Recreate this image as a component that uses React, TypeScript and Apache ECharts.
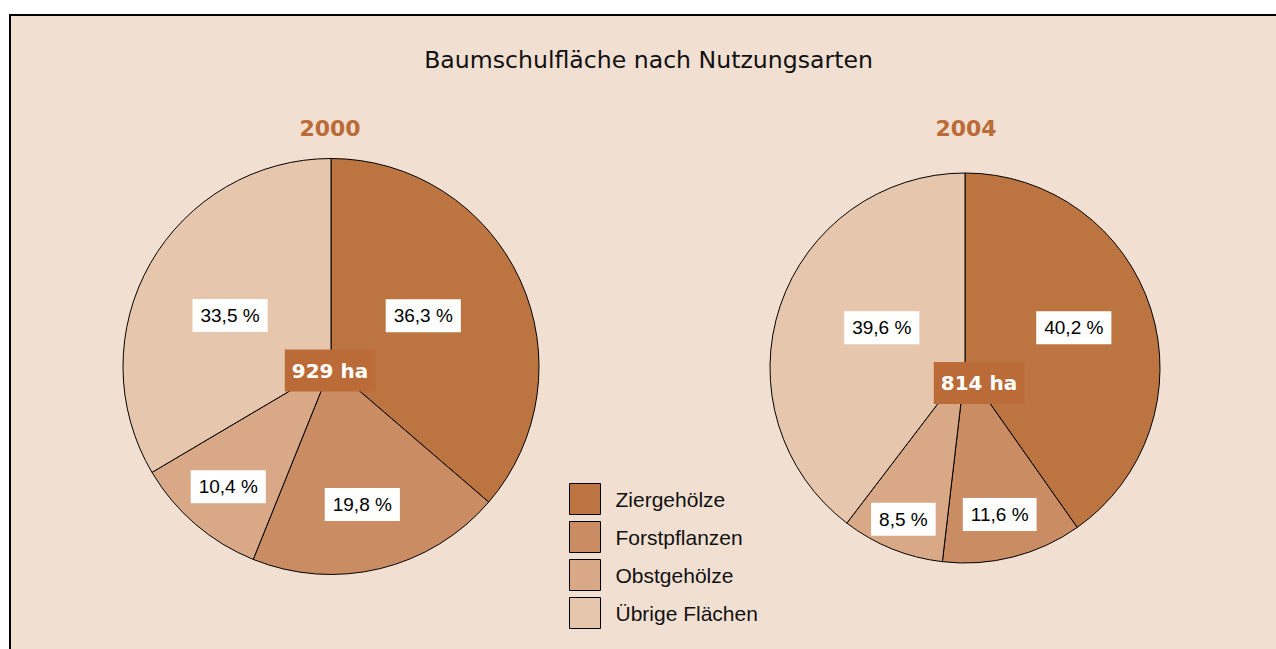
import React, { useEffect, useRef } from 'react';
import * as echarts from 'echarts';

const categories = ['Ziergehölze', 'Forstpflanzen', 'Obstgehölze', 'Übrige Flächen'];
const years = ['2000', '2004'];
const totals = [929, 814];
const shares2000 = [36.3, 19.8, 10.4, 33.5];
const shares2004 = [40.2, 11.6, 8.5, 39.6];
const chartTitle = 'Baumschulfläche nach Nutzungsarten';

const sliceColors = ['#bc7441', '#ca8c62', '#d9a886', '#e6c7ad'];
const accent = '#bb6b37';
const bg = '#f1e0d1';
const labelOffsets2000 = [[-5, -6], [6, 34], [-33, 39], [-8, 2]];
const labelOffsets2004 = [[13, -10], [10, 49], [-24, 58], [12, -8]];
const pieCenters = [[331, 366.5], [965, 368]];
const pieRadii = [208, 195];
const yearPos = [[330, 128], [966, 128]];
const totalPos = [[330, 370.5], [979, 383]];

const sans = '"Liberation Sans", Arial, Helvetica, sans-serif';
const wide = '"DejaVu Sans", Verdana, sans-serif';

function fmt(v: number) {
  return v.toFixed(1).replace('.', ',') + ' %';
}

function makePie(idx: number, shares: number[], offsets: number[][]) {
  return {
    type: 'pie',
    name: years[idx],
    center: pieCenters[idx],
    radius: pieRadii[idx],
    startAngle: 90,
    clockwise: true,
    silent: true,
    avoidLabelOverlap: false,
    emphasis: { disabled: true },
    itemStyle: { borderColor: '#000', borderWidth: 1 },
    labelLine: { show: false },
    label: {
      show: true,
      position: 'inside',
      formatter: (p: any) => fmt(p.value),
      backgroundColor: '#fff',
      padding: [7, 8, 6, 8],
      color: '#000',
      fontSize: 19,
      lineHeight: 20,
      fontFamily: sans,
    },
    data: categories.map((c, i) => ({
      name: c,
      value: shares[i],
      itemStyle: { color: sliceColors[i] },
      label: { offset: offsets[i] },
    })),
  };
}

export default function App() {
  const ref = useRef<HTMLDivElement>(null);
  useEffect(() => {
    if (!ref.current) return;
    const chart = echarts.init(ref.current, null, { renderer: 'svg' });
    const graphics: any[] = [
      {
        type: 'rect',
        z: -10,
        shape: { x: 10, y: 15, width: 1300, height: 700 },
        style: { fill: bg, stroke: '#000', lineWidth: 2 },
      },
      {
        type: 'text',
        x: 648.5,
        y: 60,
        style: {
          text: chartTitle,
          font: '23.6px ' + wide,
          fill: '#111',
          align: 'center',
          verticalAlign: 'middle',
        },
      },
    ];
    years.forEach((y, i) => {
      graphics.push({
        type: 'text',
        x: yearPos[i][0],
        y: yearPos[i][1],
        z: 10,
        style: {
          text: y,
          font: 'bold 22px ' + wide,
          fill: accent,
          align: 'center',
          verticalAlign: 'middle',
        },
      });
      graphics.push({
        type: 'text',
        x: totalPos[i][0],
        y: totalPos[i][1],
        z: 10,
        style: {
          text: totals[i] + ' ha',
          font: 'bold 20px ' + wide,
          fill: '#fff',
          align: 'center',
          verticalAlign: 'middle',
          backgroundColor: accent,
          padding: [11, 7, 11, 7],
        },
      });
    });
    chart.setOption({
      animation: false,
      backgroundColor: '#fff',
      legend: {
        orient: 'vertical',
        left: 569,
        top: 483,
        padding: 0,
        itemWidth: 31,
        itemHeight: 31,
        itemGap: 6,
        icon: 'rect',
        selectedMode: false,
        data: categories,
        itemStyle: { borderColor: '#000', borderWidth: 1 },
        textStyle: {
          fontSize: 21,
          lineHeight: 22,
          fontFamily: sans,
          color: '#111',
          padding: [0, 0, 0, 10],
        },
      },
      graphic: graphics,
      series: [makePie(0, shares2000, labelOffsets2000), makePie(1, shares2004, labelOffsets2004)],
    });
    return () => chart.dispose();
  }, []);
  return (
    <div
      ref={ref}
      style={{ position: 'absolute', left: 0, top: 0, width: 1276, height: 649 }}
    />
  );
}
